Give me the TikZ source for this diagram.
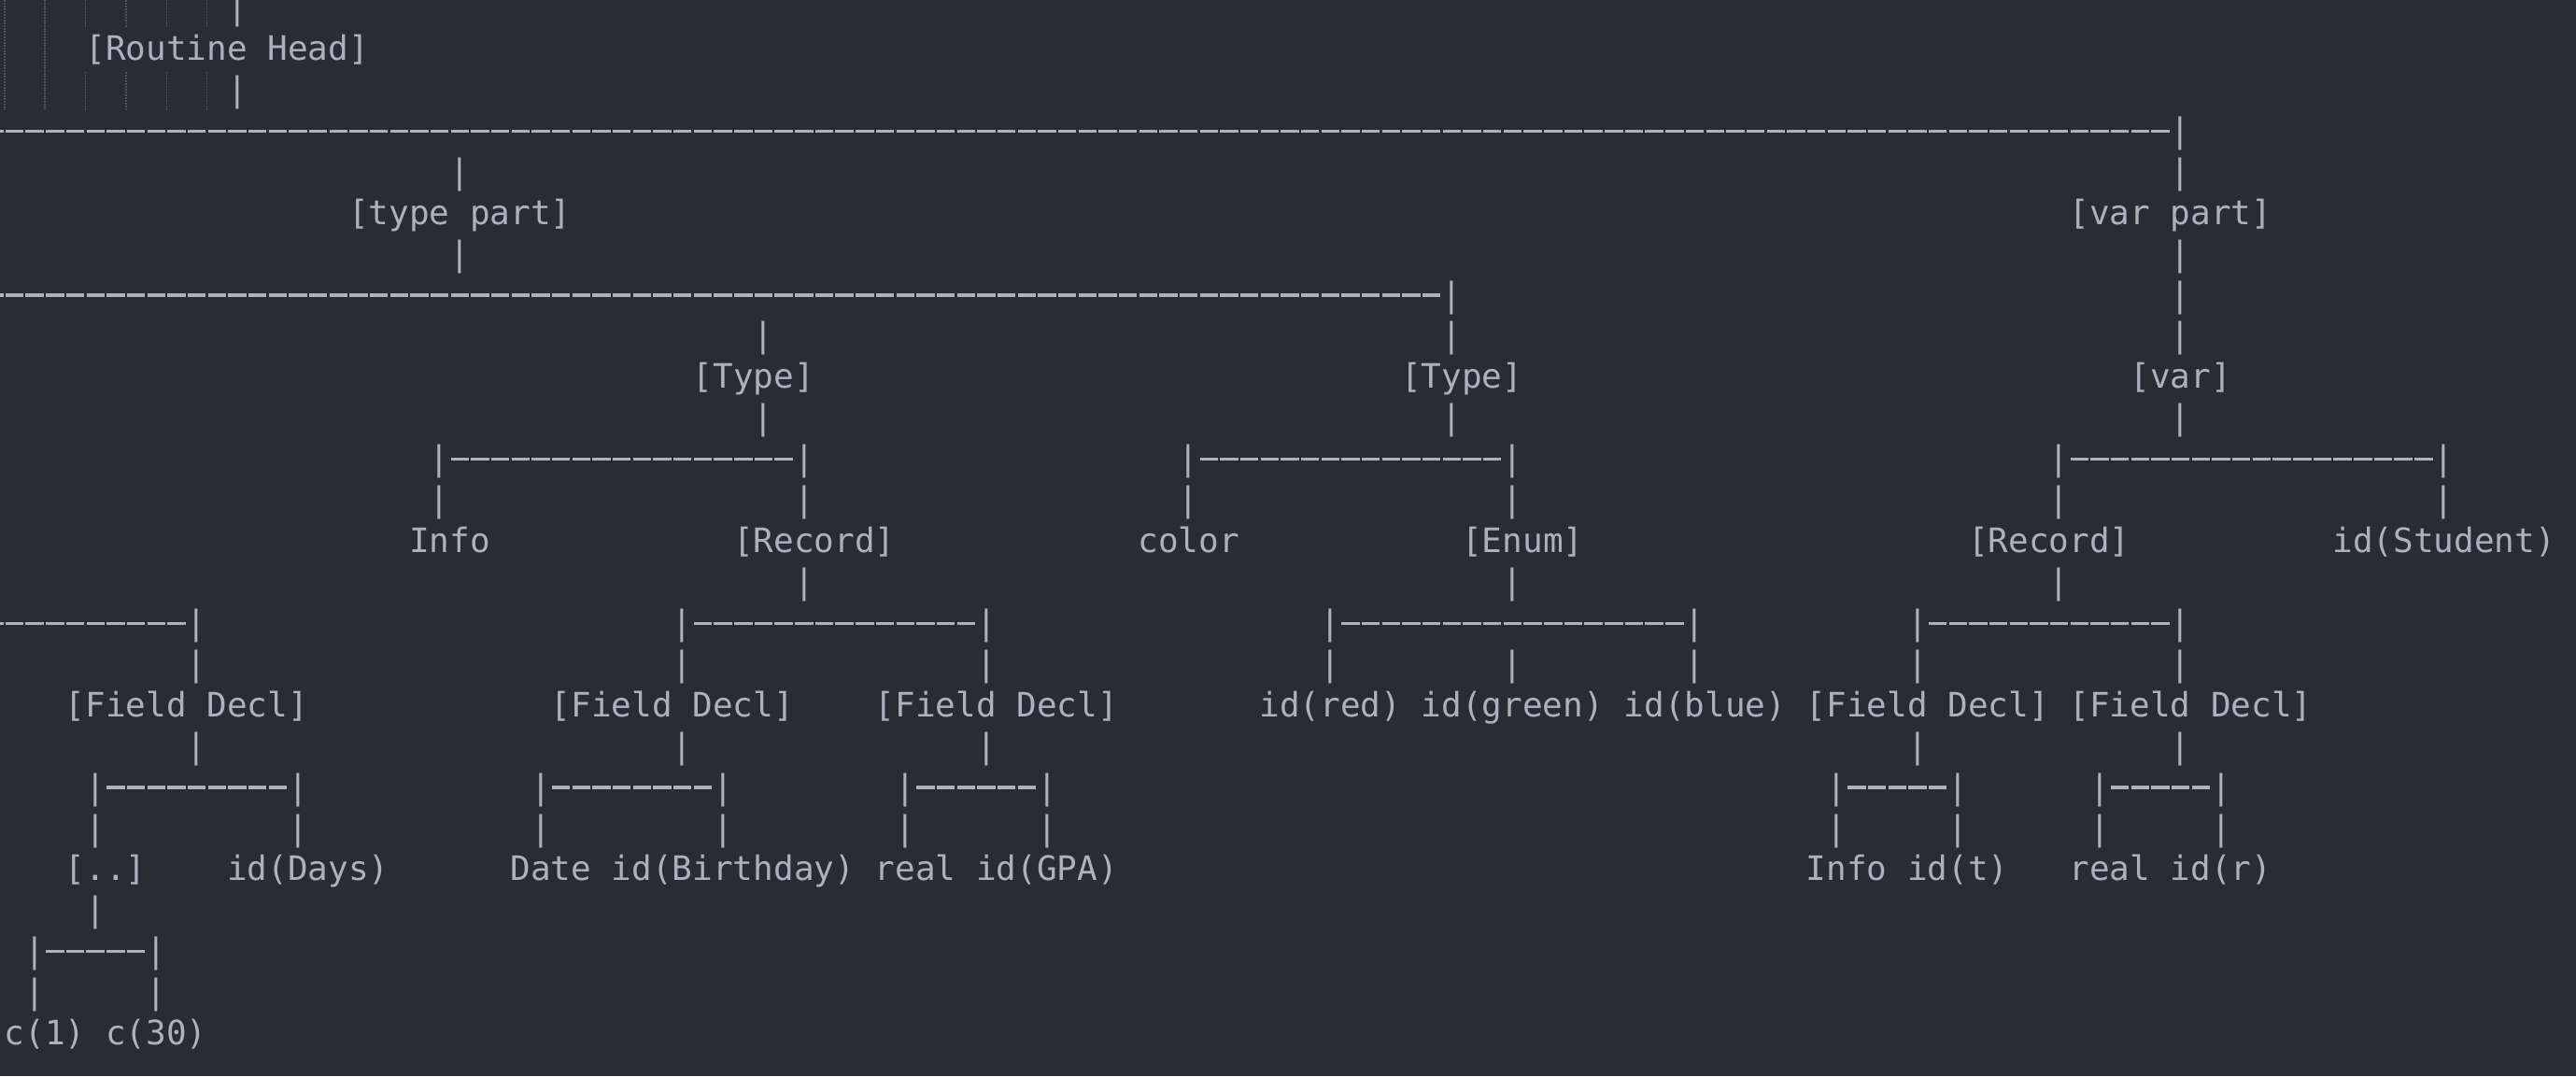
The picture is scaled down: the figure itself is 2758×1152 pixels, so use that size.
\documentclass[tikz,border=0pt]{standalone}
\usepackage{fontspec}
\newfontfamily\mono{DejaVu Sans Mono}
\definecolor{bg}{HTML}{282C34}
\definecolor{fg}{HTML}{ABB2BF}
\definecolor{guidec}{HTML}{4B5160}
\tikzset{
  txt/.style={anchor=base west, inner sep=0pt, outer sep=0pt, text=fg,
              font={\mono\fontsize{36pt}{44pt}\selectfont}},
  dl/.style={draw=fg, line width=3.3pt, dash pattern=on 19.4pt off 2.275pt},
  guideline/.style={draw=guidec, line width=1.6pt, dash pattern=on 1.5pt off 1.5pt}
}
% text at column #2, row #3
\newcommand\T[4]{\node[txt] (#1) at ({4.7+(#2)*21.675},{-20.6-(#3)*43.92}) {#4};}
% dash run between two bar nodes
\newcommand\Dsh[2]{\draw[dl] ([xshift=1.1pt,yshift=12pt]#1.base east) -- ([xshift=-1.2pt,yshift=12pt]#2.base west);}
% dash run from a free coordinate to a bar node
\newcommand\DshC[2]{\draw[dl] ([xshift=1.1pt,yshift=12pt]#1) -- ([xshift=-1.2pt,yshift=12pt]#2.base west);}
\begin{document}
\begin{tikzpicture}[x=1pt,y=1pt]
\fill[bg] (0,0) rectangle (2758,-1152);
\useasboundingbox (0,0) rectangle (2758,-1152);

% indent guides
\foreach \c in {0,2} \draw[guideline] ({4.9+\c*21.675},0) -- ({4.9+\c*21.675},-118);
\foreach \c in {4,6,8,10} {
  \draw[guideline] ({4.9+\c*21.675},0) -- ({4.9+\c*21.675},-29);
  \draw[guideline] ({4.9+\c*21.675},-77) -- ({4.9+\c*21.675},-118);
}

% left free ends of cut-off dash runs (left edge of column -1)
\coordinate (L3) at ({4.7-21.675},{-20.6-3*43.92});
\coordinate (L7) at ({4.7-21.675},{-20.6-7*43.92});
\coordinate (L15) at ({4.7-21.675},{-20.6-15*43.92});

% row 0-2
\T{b0x11}{11}{0}{|}
\T{rh}{4}{1}{[Routine Head]}
\T{b2x11}{11}{2}{|}
% row 3
\T{b3x107}{107}{3}{|}
\DshC{L3}{b3x107}
% rows 4-6
\foreach \c in {22,107} \T{b4x\c}{\c}{4}{|};
\T{tp}{17}{5}{[type part]}
\T{vp}{102}{5}{[var part]}
\foreach \c in {22,107} \T{b6x\c}{\c}{6}{|};
% row 7
\foreach \c in {71,107} \T{b7x\c}{\c}{7}{|};
\DshC{L7}{b7x71}
% rows 8-10
\foreach \c in {37,71,107} \T{b8x\c}{\c}{8}{|};
\T{ty1}{34}{9}{[Type]}
\T{ty2}{69}{9}{[Type]}
\T{var}{105}{9}{[var]}
\foreach \c in {37,71,107} \T{b10x\c}{\c}{10}{|};
% row 11
\foreach \c in {21,39,58,74,101,120} \T{b11x\c}{\c}{11}{|};
\Dsh{b11x21}{b11x39}
\Dsh{b11x58}{b11x74}
\Dsh{b11x101}{b11x120}
% row 12
\foreach \c in {21,39,58,74,101,120} \T{b12x\c}{\c}{12}{|};
% row 13
\T{info1}{20}{13}{Info}
\T{rec1}{36}{13}{[Record]}
\T{color}{56}{13}{color}
\T{enum}{72}{13}{[Enum]}
\T{rec2}{97}{13}{[Record]}
\T{stud}{115}{13}{id(Student)}
% row 14
\foreach \c in {39,74,101} \T{b14x\c}{\c}{14}{|};
% row 15
\foreach \c in {9,33,48,65,83,94,107} \T{b15x\c}{\c}{15}{|};
\DshC{L15}{b15x9}
\Dsh{b15x33}{b15x48}
\Dsh{b15x65}{b15x83}
\Dsh{b15x94}{b15x107}
% row 16
\foreach \c in {9,33,48,65,74,83,94,107} \T{b16x\c}{\c}{16}{|};
% row 17
\T{fd0}{3}{17}{[Field Decl]}
\T{fd1}{27}{17}{[Field Decl]}
\T{fd2}{43}{17}{[Field Decl]}
\T{red}{62}{17}{id(red)}
\T{green}{70}{17}{id(green)}
\T{blue}{80}{17}{id(blue)}
\T{fd3}{89}{17}{[Field Decl]}
\T{fd4}{102}{17}{[Field Decl]}
% row 18
\foreach \c in {9,33,48,94,107} \T{b18x\c}{\c}{18}{|};
% row 19
\foreach \c in {4,14,26,35,44,51,90,96,103,109} \T{b19x\c}{\c}{19}{|};
\Dsh{b19x4}{b19x14}
\Dsh{b19x26}{b19x35}
\Dsh{b19x44}{b19x51}
\Dsh{b19x90}{b19x96}
\Dsh{b19x103}{b19x109}
% row 20
\foreach \c in {4,14,26,35,44,51,90,96,103,109} \T{b20x\c}{\c}{20}{|};
% row 21
\T{dots}{3}{21}{[..]}
\T{days}{11}{21}{id(Days)}
\T{date}{25}{21}{Date}
\T{bday}{30}{21}{id(Birthday)}
\T{realA}{43}{21}{real}
\T{gpa}{48}{21}{id(GPA)}
\T{info2}{89}{21}{Info}
\T{idt}{94}{21}{id(t)}
\T{realB}{102}{21}{real}
\T{idr}{107}{21}{id(r)}
% rows 22-25
\T{b22x4}{4}{22}{|}
\foreach \c in {1,7} \T{b23x\c}{\c}{23}{|};
\Dsh{b23x1}{b23x7}
\foreach \c in {1,7} \T{b24x\c}{\c}{24}{|};
\T{cA}{0}{25}{c(1)}
\T{cB}{5}{25}{c(30)}
\end{tikzpicture}
\end{document}
